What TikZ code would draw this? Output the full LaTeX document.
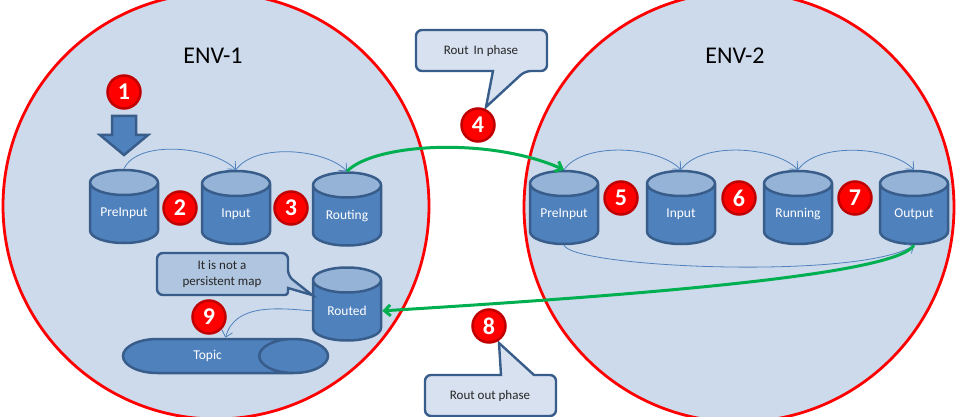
\documentclass[tikz,border=0pt]{standalone}
\usepackage{fontspec}
\setmainfont{Carlito}
\usepackage{xcolor}
\usetikzlibrary{positioning,calc,arrows.meta,shapes.geometric}
\definecolor{envfill}{HTML}{CDDAEB}
\definecolor{officeblue}{HTML}{4F81BD}
\definecolor{darkborder}{HTML}{385D8A}
\definecolor{lidblue}{HTML}{95B3D7}
\definecolor{notefill}{HTML}{D7E1F0}
\definecolor{mapnotefill}{HTML}{B0C6E0}
\definecolor{flowgreen}{HTML}{00B050}
\definecolor{badgerim}{HTML}{C00000}

\begin{document}
\begin{tikzpicture}[x=1pt,y=-1pt,>={Straight Barb[length=6pt,width=11pt]},
    env node/.style={circle,draw=red,line width=2.8pt,fill=envfill,inner sep=0pt},
    store node/.style={cylinder,anchor=shape center,shape border rotate=90,shape aspect=0.5,draw=darkborder,line width=2.5pt,
        cylinder uses custom fill,cylinder body fill=officeblue,cylinder end fill=lidblue,
        minimum width=68pt,minimum height=73pt,inner sep=0pt,text=white,font=\fontsize{13.5}{15}\selectfont},
    map node/.style={store node,text width=50pt,align=center},
    num node/.style={circle,draw=badgerim,line width=2.5pt,fill=red,text=white,minimum size=33pt,inner sep=0pt,
        font=\fontsize{24}{24}\selectfont\bfseries},
    note box/.style={draw=darkborder,line width=2.4pt},
    note text/.style={font=\fontsize{13}{15.5}\selectfont,align=center,text=black!85},
    thin flow/.style={->,officeblue,line width=0.8pt},
    main flow/.style={->,flowgreen,line width=3pt}]
\useasboundingbox (0,0) rectangle (956,417);
%Environments
    \node[env node,minimum size=426pt] (env1) at (216,206) {};
    \node[env node,minimum size=430pt] (env2) at (739,207) {};
    \node[font=\fontsize{24}{24}\selectfont] (env1title) at (213,56) {ENV-1};
    \node[font=\fontsize{24}{24}\selectfont] (env2title) at (735,56) {ENV-2};
%Maps
    \node[map node] (preinputa) at (124,206.5) {PreInput};
    \node[map node] (inputa) at (236,207.5) {Input};
    \node[map node] (routing) at (347,209) {Routing};
    \node[map node] (routed) at (347,304) {Routed};
    \node[map node] (preinputb) at (564,207.5) {PreInput};
    \node[map node] (inputb) at (681,207.5) {Input};
    \node[map node] (running) at (798,207.5) {Running};
    \node[map node] (output) at (914,207.5) {Output};
    \node[store node,shape border rotate=0,shape aspect=6,minimum width=34pt,minimum height=205pt,cylinder end fill=officeblue] (topic) at (225.5,356) {Topic};
    \coordinate (topicin) at (topic.shape center |- topic.north);
    \draw[draw=darkborder,line width=2.5pt,fill=officeblue] (112,116) -- (136,116) -- (136,135) -- (148,135) -- (124,155) -- (100,135) -- (112,135) -- cycle;
%Notes
    \draw[note box,fill=notefill] (416,50) [rounded corners=6pt] -- (416,30) -- (547,30) -- (547,71) -- (525,71) [sharp corners] -- (486,107) -- (493,71) [rounded corners=6pt] -- (416,71) -- cycle;
    \node[note text] (notein) at (481,51) {Rout\, In phase};
    \draw[note box,fill=notefill] (425,395) [rounded corners=6pt] -- (425,375) [sharp corners] -- (501,375) -- (499,343) -- (534,375) [rounded corners=6pt] -- (556,375) -- (556,416) -- (425,416) -- cycle;
    \node[note text] (noteout) at (490,396) {Rout out phase};
    \draw[note box,fill=mapnotefill] (157,274) [rounded corners=6pt] -- (157,253) -- (288,253) -- (288,276) [sharp corners] -- (312,295) -- (288,288) [rounded corners=3pt] -- (288,295) [rounded corners=6pt] -- (157,295) -- cycle;
    \node[note text] (notemap) at (222,274) {It is not a\\persistent map};
%Flows
    \draw[thin flow] (preinputa.top) to[out=65,in=135,looseness=0.75] (inputa.top);
    \draw[thin flow] (inputa.top) to[out=55,in=135,looseness=0.75] (routing.top);
    \draw[thin flow] (preinputb.top) to[out=55,in=135,looseness=0.75] (inputb.top);
    \draw[thin flow] (inputb.top) to[out=55,in=135,looseness=0.75] (running.top);
    \draw[thin flow] (running.top) to[out=55,in=135,looseness=0.75] (output.top);
    \draw[thin flow] (preinputb.bottom) .. controls (574,268) and (860,280) .. (output.bottom);
    \draw[thin flow] (routed.west) to[out=175,in=75] (topicin);
    \draw[main flow] (routing.top) .. controls (375,143) and (490,137) .. (preinputb.top);
    \draw[main flow] (output.bottom) .. controls (895,275) and (640,295) .. (routed.east);
%Steps
    \node[num node] (step1) at (124,92) {1};
    \node[num node] (step2) at (180,208) {2};
    \node[num node] (step3) at (291,208) {3};
    \node[num node] (step4) at (478,125) {4};
    \node[num node] (step5) at (621,198) {5};
    \node[num node] (step6) at (739,198) {6};
    \node[num node] (step7) at (855,198) {7};
    \node[num node] (step8) at (489,326) {8};
    \node[num node] (step9) at (209,317) {9};
\end{tikzpicture}
\end{document}
